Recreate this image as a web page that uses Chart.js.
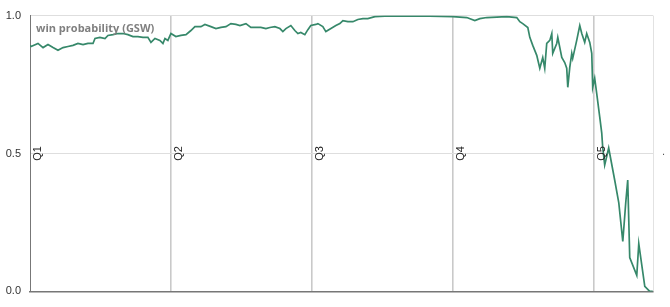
<!DOCTYPE html>
<html>
<head>
<meta charset="utf-8">
<script src="https://cdn.jsdelivr.net/npm/chart.js@4/dist/chart.umd.min.js"></script>
<style>
html,body{margin:0;padding:0;background:#fff;}
canvas{display:block;}
</style>
</head>
<body>
<canvas id="c" width="670" height="307"></canvas>
<script>
// game clock in minutes elapsed (4 x 12-minute quarters + 5-minute overtime)
const gameMinutes = [
  0.00,0.09,0.68,1.11,1.53,1.96,2.38,2.81,3.23,3.66,4.08,4.51,4.93,5.36,5.53,5.95,6.38,6.63,7.06,7.48,
  7.91,8.33,8.76,9.18,9.61,10.03,10.29,10.63,11.05,11.31,11.48,11.73,11.99,
  12.41,12.84,13.27,13.69,14.03,14.54,14.88,15.39,15.82,16.24,16.67,17.09,17.52,17.86,18.37,18.79,19.22,
  19.64,20.07,20.41,20.83,21.26,21.51,21.77,22.19,22.53,22.79,23.04,23.38,23.64,23.89,
  24.32,24.49,24.91,25.17,25.60,26.02,26.36,26.62,27.04,27.47,27.89,28.32,28.74,29.34,30.19,31.55,34.00,35.97,
  37.16,37.84,38.27,38.86,40.56,41.41,41.67,41.92,42.35,42.52,42.77,43.11,43.37,43.62,43.79,43.96,44.22,
  44.39,44.47,44.81,44.90,45.24,45.49,45.66,45.75,45.92,46.09,46.17,46.51,46.77,46.94,47.19,47.36,47.62,
  47.79,47.87,48.04,
  48.21,48.47,48.64,48.72,48.89,49.23,49.74,50.09,50.43,50.68,50.85,51.02,51.62,51.79,52.30,52.72,52.98
];
const winProbGSW = [
  0.892,0.888,0.899,0.884,0.895,0.884,0.874,0.884,0.888,0.892,0.899,0.895,0.899,0.899,0.917,0.921,0.917,0.928,0.931,0.935,
  0.935,0.931,0.924,0.924,0.921,0.921,0.903,0.917,0.910,0.899,0.917,0.910,0.935,
  0.924,0.928,0.931,0.946,0.960,0.960,0.968,0.960,0.953,0.957,0.960,0.971,0.968,0.964,0.971,0.957,0.957,
  0.957,0.953,0.957,0.960,0.953,0.942,0.953,0.964,0.946,0.935,0.939,0.931,0.949,0.964,
  0.968,0.971,0.960,0.942,0.953,0.964,0.971,0.982,0.978,0.978,0.986,0.989,0.989,0.996,0.998,0.998,0.998,0.996,
  0.993,0.982,0.989,0.993,0.996,0.993,0.978,0.971,0.957,0.921,0.892,0.856,0.809,0.848,0.809,0.899,0.910,
  0.935,0.863,0.899,0.921,0.848,0.830,0.809,0.740,0.812,0.863,0.845,0.910,0.964,0.935,0.903,0.935,0.903,
  0.863,0.740,0.773,
  0.718,0.632,0.574,0.523,0.458,0.520,0.404,0.321,0.181,0.321,0.404,0.123,0.058,0.173,0.018,0.000,0.000
];
const periodStarts = [0, 12, 24, 36, 48];
const periodLabels = ['Q1', 'Q2', 'Q3', 'Q4', 'Q5'];
const gameEnd = 53;
const yTickValues = [0, 0.5, 1];
const yTickLabels = ['0.0', '0.5', '1.0'];
const chartTitle = 'win probability (GSW)';

const overlay = {
  id: 'overlay',
  afterDraw(chart) {
    const ctx = chart.ctx;
    const xs = chart.scales.x, ys = chart.scales.y;
    const area = chart.chartArea;
    ctx.save();
    // title
    ctx.font = 'bold 11px "Open Sans"';
    ctx.fillStyle = '#7f7f7f';
    ctx.textAlign = 'left';
    ctx.textBaseline = 'alphabetic';
    ctx.fillText(chartTitle, area.left + 6, 32);
    // period labels
    const yMid = ys.getPixelForValue(0.5);
    ctx.font = '11px "Liberation Sans", Arial, sans-serif';
    ctx.fillStyle = '#222';
    periodStarts.forEach((v, i) => {
      const px = xs.getPixelForValue(v);
      ctx.save();
      ctx.translate(px + 2.5, yMid);
      ctx.rotate(-Math.PI / 2);
      ctx.textAlign = 'center';
      ctx.textBaseline = 'top';
      ctx.fillText(periodLabels[i], 0, 0);
      ctx.restore();
    });
    ctx.fillStyle = '#555';
    ctx.textAlign = 'left';
    ctx.textBaseline = 'middle';
    ctx.fillText('.', area.right + 9, yMid - 2);
    ctx.restore();
  }
};

new Chart(document.getElementById('c'), {
  type: 'line',
  data: {
    datasets: [{
      data: gameMinutes.map((m, i) => ({ x: m, y: winProbGSW[i] })),
      borderColor: '#36886a',
      borderWidth: 1.7,
      pointRadius: 0,
      tension: 0,
      fill: false
    }]
  },
  options: {
    responsive: false,
    animation: false,
    layout: { padding: { left: 6, right: 17, top: 15, bottom: 15 } },
    plugins: { legend: { display: false }, tooltip: { enabled: false }, title: { display: false } },
    scales: {
      x: {
        type: 'linear',
        min: 0,
        max: gameEnd,
        afterBuildTicks(axis) {
          axis.ticks = periodStarts.concat([gameEnd]).map(v => ({ value: v }));
        },
        ticks: { display: false },
        grid: {
          drawTicks: false,
          color: (c) => {
            const v = c.tick ? c.tick.value : null;
            if (v === 0) return 'rgba(0,0,0,0)';
            if (v === gameEnd) return '#e2e2e2';
            return '#c9c9c9';
          },
          lineWidth: (c) => (c.tick && c.tick.value === gameEnd) ? 1 : 1.6
        },
        border: { display: true, color: '#777', width: 1.5 }
      },
      y: {
        min: 0,
        max: 1,
        afterBuildTicks(axis) {
          axis.ticks = yTickValues.map(v => ({ value: v }));
        },
        afterFit(axis) { axis.width = 24; },
        ticks: {
          padding: 9,
          color: '#333',
          font: { family: '"Liberation Sans", Arial, sans-serif', size: 11 },
          callback: (v) => yTickLabels[yTickValues.indexOf(v)]
        },
        grid: {
          drawTicks: false,
          color: (c) => (c.tick && c.tick.value === 0) ? 'rgba(0,0,0,0)' : '#dedede',
          lineWidth: 1
        },
        border: { display: true, color: '#777', width: 1 }
      }
    }
  },
  plugins: [overlay]
});
</script>
</body>
</html>
